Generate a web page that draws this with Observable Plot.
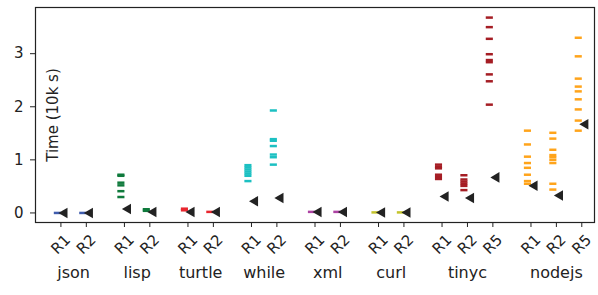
<!DOCTYPE html>
<html>
<head>
<meta charset="utf-8">
<script src="https://cdn.jsdelivr.net/npm/d3@7"></script>
<script src="https://cdn.jsdelivr.net/npm/@observablehq/plot@0.6"></script>
<style>
  html, body { margin: 0; padding: 0; background: #fff; }
</style>
</head>
<body>
<div id="chart"></div>
<script>
// ---- data ----
const groups = ["json", "lisp", "turtle", "while", "xml", "curl", "tinyc", "nodejs"];
const runLabels = [["R1", "R2"], ["R1", "R2"], ["R1", "R2"], ["R1", "R2"], ["R1", "R2"], ["R1", "R2"], ["R1", "R2", "R5"], ["R1", "R2", "R5"]];
const groupColors = ["#3f5cad", "#0f7a3c", "#e8262e", "#1cc0c2", "#ad42a3", "#c4c42c", "#a51d24", "#ffa41b"];
const yTicks = [0, 1, 2, 3];

// individual run times (10k s), one array per run
const jsonTimes   = [[0.00], [0.00]];
const lispTimes   = [[0.72, 0.70, 0.57, 0.52, 0.41, 0.30], [0.07, 0.04]];
const turtleTimes = [[0.08, 0.05], [0.02]];
const whileTimes  = [[0.90, 0.86, 0.82, 0.78, 0.74, 0.70, 0.60], [1.93, 1.39, 1.36, 1.26, 1.10, 1.05, 0.91]];
const xmlTimes    = [[0.02], [0.02]];
const curlTimes   = [[0.01], [0.01]];
const tinycTimes  = [[0.91, 0.87, 0.84, 0.72, 0.68, 0.64], [0.71, 0.63, 0.59, 0.55, 0.51, 0.43], [3.68, 3.50, 3.28, 2.99, 2.88, 2.84, 2.61, 2.48, 2.04]];
const nodejsTimes = [[1.55, 1.29, 1.06, 0.94, 0.85, 0.72, 0.60, 0.55], [1.51, 1.40, 1.19, 1.09, 1.05, 1.00, 0.94, 0.55, 0.44], [3.30, 2.95, 2.53, 2.38, 2.29, 2.14, 1.95, 1.74, 1.55]];
const allTimes = [jsonTimes, lispTimes, turtleTimes, whileTimes, xmlTimes, curlTimes, tinycTimes, nodejsTimes];

// black triangle markers (one per run)
const triangleValues = [[0.00, 0.00], [0.075, 0.02], [0.02, 0.02], [0.22, 0.28], [0.02, 0.02], [0.01, 0.01], [0.31, 0.28, 0.67], [0.51, 0.33, 1.67]];

// ---- build tables ----
const tickRows = [], groupRows = [], dashRows = [], triRows = [];
let pos = 0;
groups.forEach((g, gi) => {
  const start = pos;
  runLabels[gi].forEach((r, ri) => {
    tickRows.push({pos, run: r});
    allTimes[gi][ri].forEach(v => dashRows.push({pos, v, color: groupColors[gi]}));
    triRows.push({pos, v: triangleValues[gi][ri]});
    pos += 1;
  });
  groupRows.push({center: (start + pos - 1) / 2, name: g});
  pos += 0.5;
});

const chart = Plot.plot({
  width: 598,
  height: 295,
  marginLeft: 35,
  marginRight: 4,
  marginTop: 7,
  marginBottom: 73,
  style: {fontFamily: "DejaVu Sans, sans-serif", fontSize: "15px", color: "#222", background: "#fff"},
  x: {type: "linear", domain: [-1, 21], axis: null},
  y: {domain: [-0.18, 3.87], axis: null},
  color: {type: "identity"},
  marks: [
    Plot.axisY(yTicks, {tickSize: 5, tickPadding: 7, fontSize: 15, tickFormat: d => String(d), label: null, stroke: "#222"}),
    Plot.axisX(tickRows.map(d => d.pos), {tickSize: 5, tickFormat: () => "", label: null, stroke: "#222"}),
    Plot.ruleY(dashRows, {y: "v", x1: d => d.pos - 0.26, x2: d => d.pos + 0.02, stroke: "color", strokeWidth: 2.5}),
    Plot.dot(triRows, {x: d => d.pos + 0.14, y: "v", symbol: "triangle", rotate: -90, r: 3.9, fill: "#222", stroke: "none"}),
    Plot.text(tickRows, {x: "pos", text: "run", frameAnchor: "bottom", dy: 22, rotate: -45, textAnchor: "middle", lineAnchor: "middle", fontSize: 15, fill: "#222"}),
    Plot.text(groupRows, {x: "center", text: "name", frameAnchor: "bottom", dy: 50, textAnchor: "middle", lineAnchor: "middle", fontSize: 16, fill: "#222"}),
    Plot.text(["Time (10k s)"], {text: d => d, frameAnchor: "left", dx: 18, rotate: -90, textAnchor: "middle", lineAnchor: "middle", fontSize: 15, fill: "#222"}),
    Plot.frame({stroke: "#222", strokeWidth: 1.2})
  ]
});
document.getElementById("chart").appendChild(chart);
</script>
</body>
</html>
